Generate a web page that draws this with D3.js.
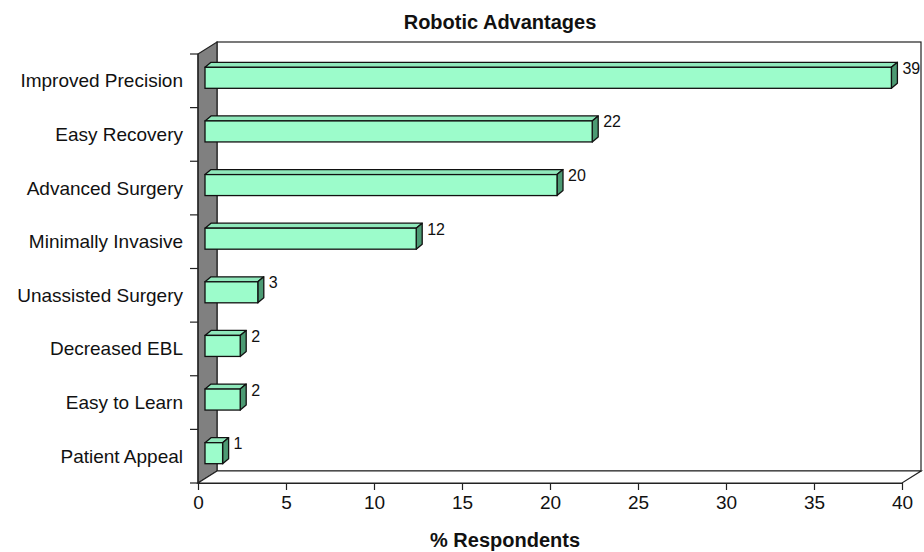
<!DOCTYPE html>
<html>
<head>
<meta charset="utf-8">
<script src="https://cdn.jsdelivr.net/npm/d3@7"></script>
<style>
  body { margin: 0; background: #fff; }
  text { font-family: "Liberation Sans", Arial, sans-serif; fill: #111; }
</style>
</head>
<body>
<div id="chart"></div>
<script>
(function() {

// data
const categories = ["Improved Precision", "Easy Recovery", "Advanced Surgery", "Minimally Invasive",
                    "Unassisted Surgery", "Decreased EBL", "Easy to Learn", "Patient Appeal"];
const values = [39, 22, 20, 12, 3, 2, 2, 1];
const xTicks = [0, 5, 10, 15, 20, 25, 30, 35, 40];
const title = "Robotic Advantages";
const xTitle = "% Respondents";

const W = 924, H = 552;
const left = 198, right = 902, top = 54, bottom = 483;
const depth = {x: 19, y: -12};      // wall depth
const plane = {x: 7, y: -3};        // where bars sit inside the box
const bd = {x: 6, y: -5};           // bar depth
const barH = 21;

let xScale = d3.scaleLinear().domain([0, 40]).range([left, right]);
let yScale = d3.scaleBand().domain(categories).range([top, bottom]);

let svg = d3.select("#chart").append("svg")
    .attr("width", W)
    .attr("height", H);

let pts = (a) => a.map(p => p.join(",")).join(" ");

// back wall
svg.append("rect")
    .attr("x", left + depth.x).attr("y", top + depth.y)
    .attr("width", right - left).attr("height", bottom - top)
    .attr("fill", "#fff").attr("stroke", "#222").attr("stroke-width", 1.2);

// left wall
svg.append("polygon")
    .attr("points", pts([[left, top], [left + depth.x, top + depth.y],
                         [left + depth.x, bottom + depth.y], [left, bottom]]))
    .attr("fill", "#808080").attr("stroke", "#222").attr("stroke-width", 1.2);

// floor
svg.append("polygon")
    .attr("points", pts([[left, bottom], [left + depth.x, bottom + depth.y],
                         [right + depth.x, bottom + depth.y], [right, bottom]]))
    .attr("fill", "#fff").attr("stroke", "#222").attr("stroke-width", 1.2);

// x axis
let xAxis = svg.append("g")
    .attr("transform", "translate(0," + bottom + ")")
    .call(d3.axisBottom(xScale).tickValues(xTicks).tickSize(7).tickPadding(6).tickSizeOuter(0));
xAxis.select(".domain").attr("stroke", "#222").attr("stroke-width", 1.2);
xAxis.selectAll(".tick line").attr("stroke", "#222").attr("stroke-width", 1.2);
xAxis.selectAll("text")
    .style("font-family", "'Liberation Sans', Arial, sans-serif")
    .style("font-size", "19px").attr("fill", "#111");

// y axis (ticks at category boundaries)
let yAxis = svg.append("g")
    .attr("transform", "translate(" + left + ",0)");
yAxis.append("line")
    .attr("x1", 0).attr("x2", 0).attr("y1", top).attr("y2", bottom)
    .attr("stroke", "#222").attr("stroke-width", 1.2);
let bounds = categories.map(c => yScale(c)).concat([bottom]);
yAxis.selectAll(".yt").data(bounds).join("line")
    .attr("class", "yt")
    .attr("x1", -8).attr("x2", 0)
    .attr("y1", d => d).attr("y2", d => d)
    .attr("stroke", "#222").attr("stroke-width", 1.2);
yAxis.selectAll(".yl").data(categories).join("text")
    .attr("class", "yl")
    .attr("x", -15)
    .attr("y", d => yScale(d) + yScale.bandwidth() / 2)
    .attr("text-anchor", "end")
    .attr("dominant-baseline", "central")
    .style("font-size", "19px")
    .text(d => d);

// bars
let bars = svg.selectAll(".bar").data(categories.map((c, i) => ({c: c, v: values[i]})))
    .join("g").attr("class", "bar");

bars.each(function(d) {
    let g = d3.select(this);
    let x0 = xScale(0) + plane.x;
    let x1 = xScale(d.v) + plane.x;
    let y0 = yScale(d.c) + yScale.bandwidth() / 2 + plane.y - barH / 2;
    let y1 = y0 + barH;
    g.append("polygon")
        .attr("points", pts([[x0, y0], [x0 + bd.x, y0 + bd.y], [x1 + bd.x, y0 + bd.y], [x1, y0]]))
        .attr("fill", "#8fe8bb").attr("stroke", "#111").attr("stroke-width", 1.3)
        .attr("stroke-linejoin", "round");
    g.append("polygon")
        .attr("points", pts([[x1, y0], [x1 + bd.x, y0 + bd.y], [x1 + bd.x, y1 + bd.y], [x1, y1]]))
        .attr("fill", "#4c9a73").attr("stroke", "#111").attr("stroke-width", 1.3)
        .attr("stroke-linejoin", "round");
    g.append("rect")
        .attr("x", x0).attr("y", y0)
        .attr("width", x1 - x0).attr("height", barH)
        .attr("fill", "#9cfccb").attr("stroke", "#111").attr("stroke-width", 1.3);
    g.append("text")
        .attr("x", x1 + bd.x + 5)
        .attr("y", y0 + 1)
        .attr("dominant-baseline", "central")
        .style("font-size", "16px")
        .text(d.v);
});

// titles
svg.append("text")
    .attr("x", 500).attr("y", 29)
    .attr("text-anchor", "middle")
    .style("font-size", "20px").style("font-weight", "bold")
    .text(title);

svg.append("text")
    .attr("x", 505).attr("y", 547)
    .attr("text-anchor", "middle")
    .style("font-size", "20px").style("font-weight", "bold")
    .text(xTitle);

})();
</script>
</body>
</html>
